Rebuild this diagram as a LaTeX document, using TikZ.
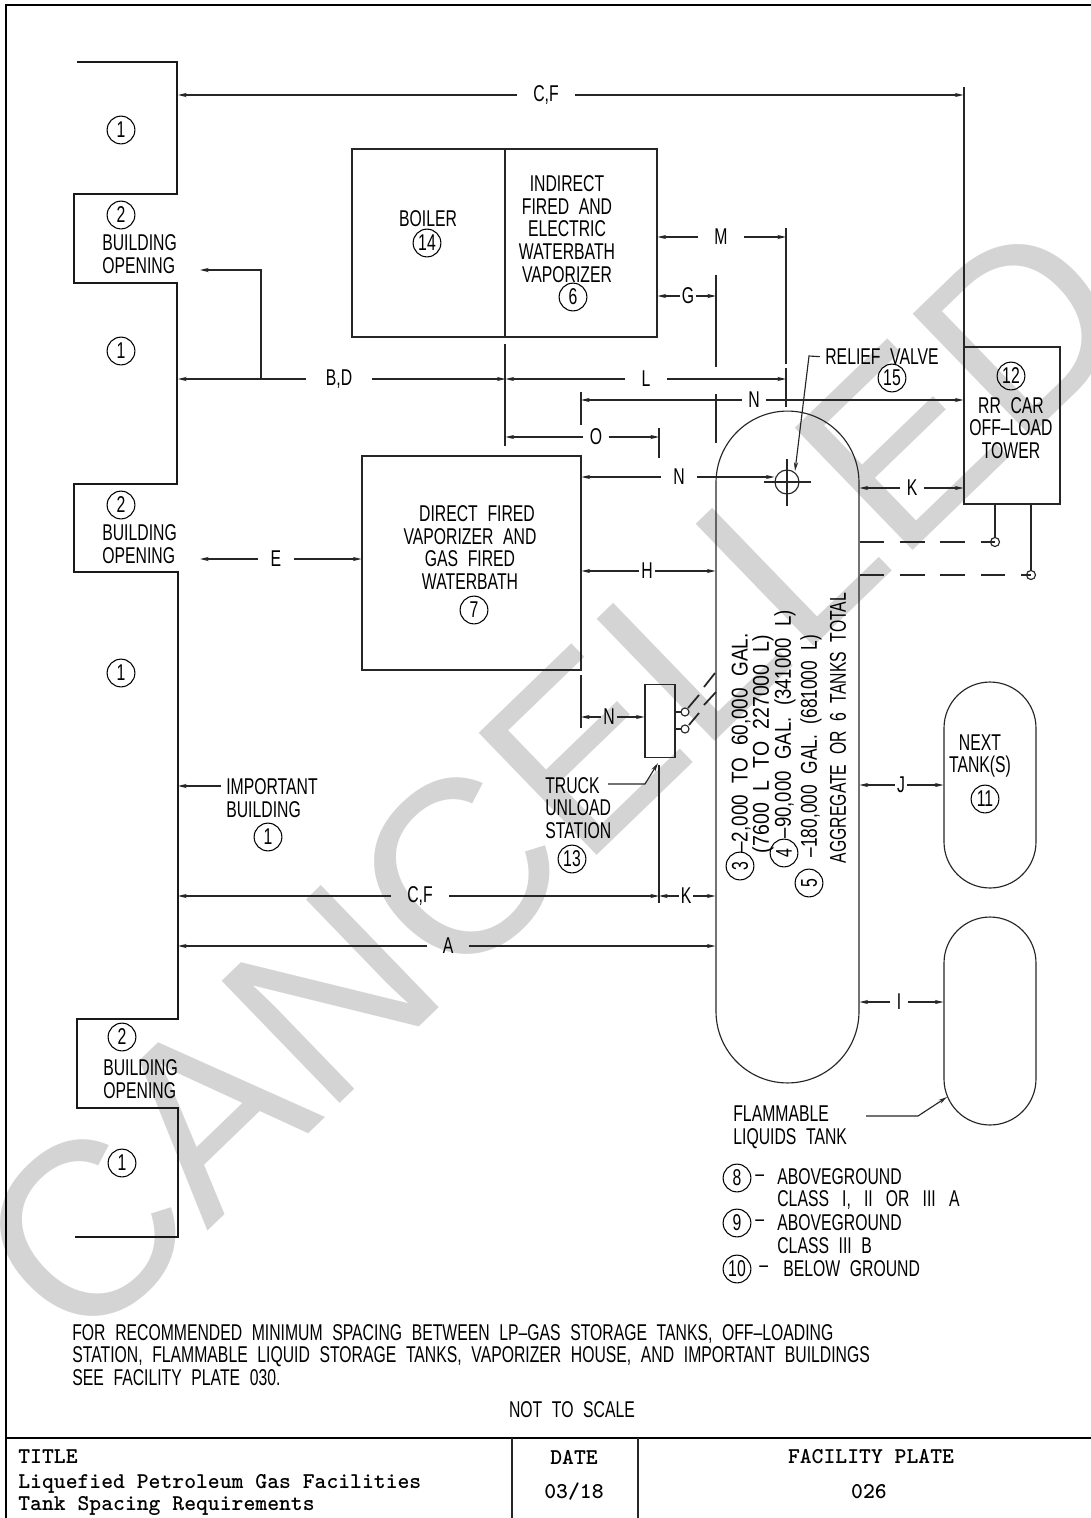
\documentclass[tikz,border=0pt]{standalone}
\usepackage{fontspec}
\setmainfont[FakeStretch=0.69,WordSpace=2.2]{Liberation Sans}
\newfontfamily\stampfont{Liberation Sans}
\newfontfamily\widefont[FakeStretch=0.69,WordSpace=3]{Liberation Sans}
\usetikzlibrary{arrows.meta}

\begin{document}
\begin{tikzpicture}[x=0.02cm, y=0.02cm]
	\tikzstyle{every node}+=[inner sep=0pt, font=\fontsize{13}{12.9}\selectfont, align=center]
	\tikzstyle{thin line}=[line width=0.65pt, black!85]
	\tikzstyle{wall}=[line width=1.15pt, black!90]
	\tikzstyle{dimline}=[thin line, -{Stealth[length=5pt,width=2.4pt]}]
	\tikzstyle{dimwide}=[inner xsep=9pt]
	\tikzstyle{dimmid}=[inner xsep=3.5pt]
	\tikzstyle{dimtight}=[inner xsep=1pt]
	\tikzstyle{circnum}=[circle, draw, line width=0.6pt, minimum size=15.8pt]
	\tikzstyle{plainbox}=[draw, thin line, text=black]
	\tikzstyle{tankbox}=[draw, thin line]
	\tikzstyle{lefttext}=[align=left, anchor=west]
	\tikzstyle{blockfont}=[font=\fontsize{12.85}{12.9}\selectfont\ttfamily\bfseries, align=left]
	\clip (0,0) rectangle (1091,-1518);
	% watermark
	\node [text=black!17, rotate=44, font=\stampfont\fontsize{140.5}{140.5}\selectfont] (stamp) at (553,-780) {CANCELLED};
	% sheet frame and title block
	\draw [line width=1.1pt] (1091,-5) -- (6,-5) -- (6,-1518);
	\draw [line width=1.3pt] (6,-1438) -- (1091,-1438);
	\draw [thin line] (512,-1438) -- (512,-1518);
	\draw [thin line] (638,-1438) -- (638,-1518);
	\node [blockfont, anchor=west] (titlehead) at (18,-1457) {TITLE};
	\node [blockfont, anchor=west] (titletext) at (18,-1495) {Liquefied Petroleum Gas Facilities\\Tank Spacing Requirements};
	\node [blockfont] (datehead) at (574,-1457) {DATE};
	\node [blockfont] (datetext) at (574,-1492) {03/18};
	\node [blockfont] (platehead) at (871,-1457) {FACILITY PLATE};
	\node [blockfont] (platetext) at (869,-1492) {026};
	% building wall
	\draw [wall] (77,-62) -- (177,-62) -- (177,-194) -- (74,-194) -- (74,-283) -- (177,-283) -- (177,-484) -- (74,-484) -- (74,-572) -- (178,-572) -- (178,-1019) -- (77,-1019) -- (77,-1108) -- (178,-1108) -- (178,-1237) -- (75,-1237);
	\coordinate (wallface) at (178,0);
	\node [circnum] (bldg1) at (121,-130) {1};
	\node [circnum] (open1) at (121,-215) {2};
	\node [lefttext] (opentext1) at (102,-254) {BUILDING\\OPENING};
	\node [circnum] (bldg2) at (121,-351) {1};
	\node [circnum] (open2) at (121,-505) {2};
	\node [lefttext] (opentext2) at (102,-544) {BUILDING\\OPENING};
	\node [circnum] (bldg3) at (121,-673) {1};
	\node [circnum] (open3) at (122,-1037) {2};
	\node [lefttext] (opentext3) at (103,-1079) {BUILDING\\OPENING};
	\node [circnum] (bldg4) at (122,-1163) {1};
	\node [lefttext] (imptext) at (226,-798) {IMPORTANT\\BUILDING};
	\node [circnum] (imp) at (268,-837) {1};
	% boiler and vaporizers
	\node [plainbox, minimum width=3.06cm, minimum height=3.76cm] (boiler) at (428.5,-243) {};
	\node [plainbox, minimum width=3.04cm, minimum height=3.76cm] (indirect) at (581,-243) {};
	\node (boilertext) at (428,-219) {BOILER};
	\node [circnum] (boilernum) at (427,-243) {14};
	\node (indirecttext) at (567,-229) {INDIRECT\\FIRED AND\\ELECTRIC\\WATERBATH\\VAPORIZER};
	\node [circnum] (indirectnum) at (573,-297) {6};
	\node [plainbox, minimum width=4.38cm, minimum height=4.28cm] (direct) at (471.5,-563) {};
	\node (directtop) at (477,-514) {DIRECT FIRED};
	\node (directtext) at (470,-559) {VAPORIZER AND\\GAS FIRED\\WATERBATH};
	\node [circnum] (directnum) at (474,-610) {7};
	% tower
	\node [plainbox, minimum width=1.92cm, minimum height=3.14cm] (tower) at (1012,-425.5) {};
	\node [circnum] (towernum) at (1011,-376) {12};
	\node (towertext) at (1011,-428) {RR CAR\\OFF--LOAD\\TOWER};
	\coordinate (leg1) at (995,-542);
	\coordinate (leg2) at (1031,-575);
	\draw [thin line, line width=1pt] (tower.south -| leg1) -- (leg1);
	\draw [thin line, line width=1pt] (tower.south -| leg2) -- (leg2);
	\draw [thin line, fill=white] (leg1) circle (4.5);
	\draw [thin line, fill=white] (leg2) circle (4.5);
	% tanks
	\node [tankbox, rounded corners=1.43cm, minimum width=2.86cm, minimum height=13.44cm] (tank) at (787.5,-747) {};
	\node [tankbox, rounded corners=0.92cm, minimum width=1.84cm, minimum height=4.12cm] (nexttank) at (990,-785) {};
	\node [tankbox, rounded corners=0.92cm, minimum width=1.84cm, minimum height=4.16cm] (flamtank) at (990,-1021) {};
	\node (nexttext) at (980,-756) {NEXT\\TANK(S)};
	\node [circnum] (nextnum) at (985,-799) {11};
	\draw [thin line, line width=1pt, dash pattern=on 14pt off 9pt] (tank.east |- leg1) -- (leg1);
	\draw [thin line, line width=1pt, dash pattern=on 14pt off 9pt] (tank.east |- leg2) -- (leg2);
	\node [rotate=90, xscale=1.2, transform shape] (size3) at (741,-743) {--2,000 TO 60,000 GAL.};
	\node [circnum, rotate=90] (num3) at (740,-866) {3};
	\node [rotate=90, xscale=1.24, transform shape] (size3b) at (763,-744) {(7600 L TO 227000 L)};
	\node [circnum, rotate=90] (num4) at (784,-853) {4};
	\node [rotate=90, xscale=1.18, transform shape] (size4) at (785,-724) {--90,000 GAL. (341000 L)};
	\node [circnum, rotate=90] (num5) at (809,-883) {5};
	\node [rotate=90, xscale=1.1, transform shape] (size5) at (811,-746) {--180,000 GAL. (681000 L)};
	\node [rotate=90, xscale=1.0, transform shape] (size6) at (838,-728) {AGGREGATE OR 6 TANKS TOTAL};
	% relief valve
	\node [circle, draw, thin line, minimum size=0.48cm] (valve) at (787,-482) {};
	\draw [thin line] (764,-482) -- (811,-482);
	\draw [thin line] (787,-459) -- (787,-506);
	\node (relieftext) at (882,-357) {RELIEF VALVE};
	\node [circnum] (reliefnum) at (892,-378) {15};
	\coordinate (relieftip) at (795,-471);
	\draw [dimline, shorten <=3pt] (relieftext.west) -- (809,-356) -- (relieftip);
	% truck station
	\node [plainbox, minimum width=0.6cm, minimum height=1.46cm] (truck) at (660,-721) {};
	\node [lefttext] (trucktext) at (545,-808) {TRUCK\\UNLOAD\\STATION};
	\node [circnum] (trucknum) at (572,-859) {13};
	\coordinate (truckport1) at (685,-712);
	\coordinate (truckport2) at (685,-729);
	\draw [thin line] (truck.east |- truckport1) -- (truckport1);
	\draw [thin line] (truck.east |- truckport2) -- (truckport2);
	\draw [thin line, fill=white] (truckport1) circle (4);
	\draw [thin line, fill=white] (truckport2) circle (4);
	\draw [thin line, line width=1pt] (688,-708) -- (699,-695);
	\draw [thin line, line width=1pt] (704,-687) -- (715,-673);
	\draw [thin line, line width=1pt] (689,-725) -- (699,-713);
	\draw [thin line, line width=1pt] (704,-705) -- (716,-692);
	\coordinate (trucktip) at (658,-763);
	\draw [dimline] (608,-784) -- (645,-784) -- (trucktip);
	% extension lines
	\coordinate (extm) at (786,0);
	\coordinate (extg) at (716,0);
	\coordinate (extn) at (581,0);
	\coordinate (exto) at (659,0);
	\coordinate (extk) at (659,0);
	\draw [thin line, line width=0.8pt] (786,-228) -- (786,-364);
	\draw [thin line, line width=0.8pt] (786,-368) -- (786,-407);
	\draw [thin line] (716,-275) -- (716,-367);
	\draw [thin line] (716,-394) -- (716,-443);
	\draw [thin line] (505,-344) -- (505,-446);
	\draw [thin line] (581,-392) -- (581,-425);
	\draw [thin line, line width=0.8pt] (659,-428) -- (659,-458);
	\draw [thin line, line width=0.8pt] (581,-675) -- (581,-728);
	\draw [thin line, line width=0.8pt] (659,-765) -- (659,-903);
	\draw [thin line, line width=0.8pt] (964,-87) -- (964,-347);
	% dimensions
	\node [dimwide] (cftop) at (546,-95) {C,F};
	\draw [dimline] (cftop) -- (cftop -| wallface);
	\draw [dimline] (cftop) -- (cftop -| tower.west);
	\node [dimwide, inner xsep=11pt] (bd) at (339,-379) {B,D};
	\draw [dimline] (bd) -- (bd -| wallface);
	\draw [dimline] (bd) -- (bd -| boiler.east);
	\coordinate (bdjoint) at (261,-379);
	\coordinate (opentip) at (200,-270);
	\draw [dimline] (bdjoint) -- (261,-270) -- (opentip);
	\node [dimwide] (l) at (646,-379) {L};
	\draw [dimline] (l) -- (l -| boiler.east);
	\draw [dimline] (l) -- (l -| extm);
	\node [dimwide] (m) at (721,-237) {M};
	\draw [dimline] (m) -- (m -| indirect.east);
	\draw [dimline] (m) -- (m -| extm);
	\node [dimtight] (g) at (688,-296) {G};
	\draw [dimline] (g) -- (g -| indirect.east);
	\draw [dimline] (g) -- (g -| extg);
	\node [dimmid] (ntop) at (754,-400) {N};
	\draw [dimline] (ntop) -- (ntop -| extn);
	\draw [dimline] (ntop) -- (ntop -| tower.west);
	\node [dimmid] (o) at (596,-437) {O};
	\draw [dimline] (o) -- (o -| boiler.east);
	\draw [dimline] (o) -- (o -| exto);
	\node [dimwide, inner xsep=7pt] (nvalve) at (679,-477) {N};
	\draw [dimline] (nvalve) -- (nvalve -| direct.east);
	\draw [dimline] (nvalve) -- (valve.west |- nvalve);
	\node [dimmid] (ktower) at (912,-488) {K};
	\draw [dimline] (ktower) -- (ktower -| tank.east);
	\draw [dimline] (ktower) -- (ktower -| tower.west);
	\node [dimtight] (h) at (647,-571) {H};
	\draw [dimline] (h) -- (h -| direct.east);
	\draw [dimline] (h) -- (h -| tank.west);
	\node [dimwide, inner xsep=7pt] (e) at (276,-559) {E};
	\draw [dimline] (e) -- (200,-559);
	\draw [dimline] (e) -- (e -| direct.west);
	\node [dimtight] (ntruck) at (609,-717) {N};
	\draw [dimline] (ntruck) -- (ntruck -| extn);
	\draw [dimline] (ntruck) -- (ntruck -| truck.west);
	\node [dimwide] (cflow) at (420,-896) {C,F};
	\draw [dimline] (cflow) -- (cflow -| wallface);
	\draw [dimline] (cflow) -- (cflow -| extk);
	\node [dimtight] (klow) at (686,-896) {K};
	\draw [dimline] (klow) -- (klow -| extk);
	\draw [dimline] (klow) -- (klow -| tank.west);
	\node [dimwide] (a) at (448,-946) {A};
	\draw [dimline] (a) -- (a -| wallface);
	\draw [dimline] (a) -- (a -| tank.west);
	\node [dimtight] (j) at (901,-785) {J};
	\draw [dimline] (j) -- (j -| tank.east);
	\draw [dimline] (j) -- (j -| nexttank.west);
	\node [dimmid] (i) at (899,-1002) {I};
	\draw [dimline] (i) -- (i -| tank.east);
	\draw [dimline] (i) -- (i -| flamtank.west);
	\coordinate (impstart) at (221,-786);
	\draw [dimline] (impstart) -- (impstart -| wallface);
	% flammable tank notes
	\node [lefttext] (flamtext) at (733,-1127) {FLAMMABLE\\LIQUIDS TANK};
	\coordinate (flamtip) at (947,-1097);
	\draw [dimline] (866,-1116) -- (918,-1116) -- (flamtip);
	\node [circnum] (num8) at (737,-1178) {8};
	\node [anchor=west] (dash8) at (755,-1178) {--};
	\node [lefttext] (text8) at (777,-1189) {ABOVEGROUND\\{\widefont CLASS I, II OR III A}};
	\node [circnum] (num9) at (737,-1223) {9};
	\node [anchor=west] (dash9) at (755,-1223) {--};
	\node [lefttext] (text9) at (777,-1234) {ABOVEGROUND\\CLASS III B};
	\node [circnum] (num10) at (737,-1269) {10};
	\node [anchor=west] (dash10) at (759,-1269) {--};
	\node [anchor=west] (text10) at (783,-1269) {BELOW GROUND};
	% notes
	\node [lefttext] (note) at (72,-1355) {FOR RECOMMENDED MINIMUM SPACING BETWEEN LP--GAS STORAGE TANKS, OFF--LOADING\\STATION, FLAMMABLE LIQUID STORAGE TANKS, VAPORIZER HOUSE, AND IMPORTANT BUILDINGS\\SEE FACILITY PLATE 030.};
	\node (scale) at (572,-1410) {NOT TO SCALE};
\end{tikzpicture}
\end{document}
